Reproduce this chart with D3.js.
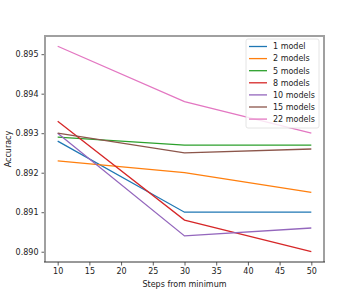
<!DOCTYPE html>
<html>
<head>
<meta charset="utf-8">
<script src="https://cdn.jsdelivr.net/npm/d3@7"></script>
<style>
  body { margin: 0; background: #fff; }
  svg { font-family: "DejaVu Sans", sans-serif; }
</style>
</head>
<body>
<div id="chart"></div>
<script>
// ============================================================================
// data
// ============================================================================

const steps = [10, 30, 50];
const seriesNames = ["1 model", "2 models", "5 models", "8 models", "10 models", "15 models", "22 models"];
const seriesColors = ["#1f77b4", "#ff7f0e", "#2ca02c", "#d62728", "#9467bd", "#8c564b", "#e377c2"];

const oneModel = [0.8928, 0.8910, 0.8910];
const twoModels = [0.8923, 0.8920, 0.8915];
const fiveModels = [0.8929, 0.8927, 0.8927];
const eightModels = [0.8933, 0.8908, 0.8900];
const tenModels = [0.8930, 0.8904, 0.8906];
const fifteenModels = [0.8930, 0.8925, 0.8926];
const twentyTwoModels = [0.8952, 0.8938, 0.8930];

const seriesValues = [oneModel, twoModels, fiveModels, eightModels, tenModels, fifteenModels, twentyTwoModels];

const xTicks = [10, 15, 20, 25, 30, 35, 40, 45, 50];
const yTicks = [0.890, 0.891, 0.892, 0.893, 0.894, 0.895];

// ============================================================================
// chart
// ============================================================================

const width = 360, height = 300;
const margin = {top: 36, right: 36, bottom: 38, left: 45};

const svg = d3.select("#chart").append("svg")
    .attr("width", width)
    .attr("height", height);

const x = d3.scaleLinear().domain([8, 52]).range([margin.left, width - margin.right]);
const y = d3.scaleLinear().domain([0.88974, 0.89546]).range([height - margin.bottom, margin.top]);

// lines
const line = d3.line()
    .x((d, i) => x(steps[i]))
    .y(d => y(d));

svg.append("g")
    .selectAll("path")
    .data(seriesValues)
    .join("path")
    .attr("fill", "none")
    .attr("stroke", (d, i) => seriesColors[i])
    .attr("stroke-width", 1.3)
    .attr("d", line);

// axes
const xAxis = svg.append("g")
    .attr("transform", `translate(0,${height - margin.bottom})`)
    .call(d3.axisBottom(x).tickValues(xTicks).tickSize(3.5).tickPadding(3));

const yAxis = svg.append("g")
    .attr("transform", `translate(${margin.left},0)`)
    .call(d3.axisLeft(y).tickValues(yTicks).tickFormat(d3.format(".3f")).tickSize(3.5).tickPadding(3));

[xAxis, yAxis].forEach(a => {
    a.select(".domain").remove();
    a.selectAll("text").attr("font-size", 8).attr("fill", "#222")
        .attr("font-family", "DejaVu Sans, sans-serif");
    a.selectAll("line").attr("stroke", "#333").attr("stroke-width", 0.8);
});

// frame: gray left/top/right, dark bottom
const x0 = margin.left, x1 = width - margin.right;
const y0 = margin.top, y1 = height - margin.bottom;
svg.append("path")
    .attr("d", `M${x0},${y1}V${y0}H${x1}V${y1}`)
    .attr("fill", "none")
    .attr("stroke", "#a0a0a0")
    .attr("stroke-width", 2);
svg.append("line")
    .attr("x1", x0 - 1).attr("x2", x1 + 1)
    .attr("y1", y1).attr("y2", y1)
    .attr("stroke", "#333")
    .attr("stroke-width", 1);

// axis labels
svg.append("text")
    .attr("x", (x0 + x1) / 2)
    .attr("y", 287)
    .attr("text-anchor", "middle")
    .attr("font-size", 8)
    .attr("fill", "#222")
    .text("Steps from minimum");

svg.append("text")
    .attr("transform", `translate(11,${(y0 + y1) / 2}) rotate(-90)`)
    .attr("text-anchor", "middle")
    .attr("font-size", 8)
    .attr("fill", "#222")
    .text("Accuracy");

// legend
const legend = svg.append("g").attr("transform", "translate(246,39)");

legend.append("rect")
    .attr("width", 73)
    .attr("height", 89)
    .attr("rx", 2)
    .attr("fill", "#fff")
    .attr("fill-opacity", 0.8)
    .attr("stroke", "#ddd")
    .attr("stroke-width", 0.8);

const item = legend.selectAll("g.item")
    .data(seriesNames)
    .join("g")
    .attr("class", "item")
    .attr("transform", (d, i) => `translate(0,${7.5 + i * 12.1})`);

item.append("line")
    .attr("x1", 3).attr("x2", 21)
    .attr("stroke", (d, i) => seriesColors[i])
    .attr("stroke-width", 1.3);

item.append("text")
    .attr("x", 27)
    .attr("dy", "0.35em")
    .attr("font-size", 8)
    .attr("fill", "#222")
    .text(d => d);
</script>
</body>
</html>
